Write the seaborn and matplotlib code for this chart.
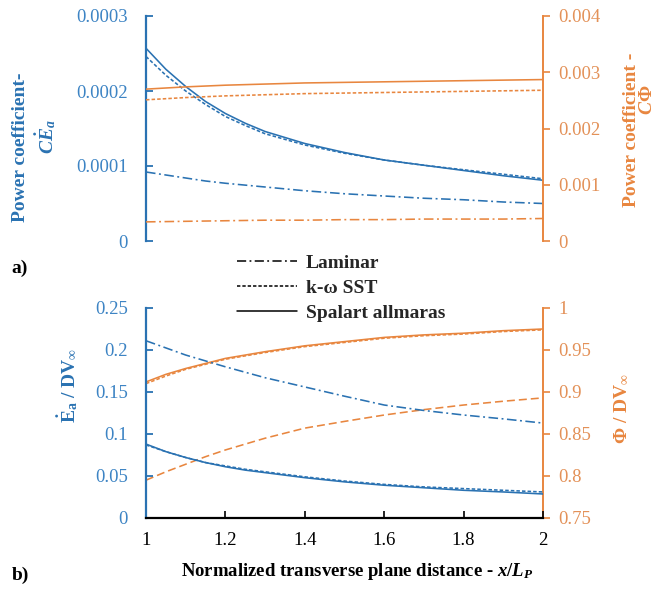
import matplotlib
matplotlib.use("Agg")
import matplotlib.pyplot as plt
from matplotlib.lines import Line2D
import seaborn as sns
import pandas as pd

# ---------------- data ----------------
x_pos = [1.0, 1.05, 1.1, 1.15, 1.2, 1.25, 1.3, 1.4, 1.5, 1.6, 1.7, 1.8, 1.9, 2.0]

# panel a) left axis (CE_a)
a_blue_sa = [0.000257, 0.000229, 0.000206, 0.000186, 0.000170, 0.000157, 0.000146, 0.000130, 0.000118, 0.000108, 0.000101, 0.000094, 0.000087, 0.000081]
a_blue_kw = [0.000246, 0.000221, 0.000200, 0.000182, 0.000166, 0.000154, 0.000143, 0.000128, 0.000117, 0.000108, 0.000101, 0.000095, 0.000089, 0.000083]
a_blue_lam = [0.000092, 0.000088, 0.000084, 0.000080, 0.000077, 0.0000745, 0.000072, 0.000067, 0.000063, 0.000060, 0.000057, 0.000055, 0.000052, 0.000050]
# panel a) right axis (C Phi)
a_or_sa = [0.00270, 0.00272, 0.00274, 0.002755, 0.00277, 0.00278, 0.00279, 0.00281, 0.00282, 0.00283, 0.00284, 0.00285, 0.00286, 0.00287]
a_or_kw = [0.00251, 0.00253, 0.00255, 0.002565, 0.00258, 0.00259, 0.00260, 0.00262, 0.00263, 0.00264, 0.00265, 0.00266, 0.00267, 0.00268]
a_or_lam = [0.00034, 0.000345, 0.00035, 0.000355, 0.00036, 0.000365, 0.00037, 0.00037, 0.00038, 0.00038, 0.00039, 0.00039, 0.00039, 0.00040]

# panel b) left axis (E_a / DV)
b_blue_sa = [0.088, 0.079, 0.072, 0.066, 0.061, 0.057, 0.054, 0.048, 0.043, 0.039, 0.036, 0.033, 0.031, 0.0286]
b_blue_kw = [0.087, 0.079, 0.072, 0.066, 0.062, 0.058, 0.055, 0.049, 0.044, 0.040, 0.037, 0.035, 0.033, 0.031]
b_blue_lam = [0.211, 0.2025, 0.194, 0.187, 0.180, 0.1735, 0.167, 0.156, 0.145, 0.1345, 0.128, 0.1226, 0.118, 0.113]
# panel b) right axis (Phi / DV)
b_or_sa = [0.912, 0.921, 0.928, 0.934, 0.940, 0.944, 0.948, 0.955, 0.960, 0.965, 0.968, 0.970, 0.973, 0.975]
b_or_kw = [0.910, 0.919, 0.927, 0.933, 0.939, 0.943, 0.947, 0.954, 0.959, 0.964, 0.967, 0.969, 0.972, 0.974]
b_or_lam = [0.795, 0.805, 0.814, 0.823, 0.831, 0.838, 0.845, 0.857, 0.865, 0.8726, 0.879, 0.8845, 0.889, 0.893]

legend_labels = ["Laminar", "k-\u03c9 SST", "Spalart allmaras"]

a_left_ticks = [0, 0.0001, 0.0002, 0.0003]
a_left_labels = ["0", "0.0001", "0.0002", "0.0003"]
a_right_ticks = [0, 0.001, 0.002, 0.003, 0.004]
a_right_labels = ["0", "0.001", "0.002", "0.003", "0.004"]
b_left_ticks = [0, 0.05, 0.1, 0.15, 0.2, 0.25]
b_left_labels = ["0", "0.05", "0.1", "0.15", "0.2", "0.25"]
b_right_ticks = [0.75, 0.8, 0.85, 0.9, 0.95, 1.0]
b_right_labels = ["0.75", "0.8", "0.85", "0.9", "0.95", "1"]
x_ticks = [1, 1.2, 1.4, 1.6, 1.8, 2]
x_labels = ["1", "1.2", "1.4", "1.6", "1.8", "2"]

# ---------------- style ----------------
sns.set_theme(style="white")
SERIF = ["Liberation Serif", "DejaVu Serif"]
plt.rcParams["font.family"] = SERIF
plt.rcParams["mathtext.fontset"] = "custom"
plt.rcParams["mathtext.rm"] = "Liberation Serif:bold"
plt.rcParams["mathtext.bf"] = "Liberation Serif:bold"
plt.rcParams["mathtext.it"] = "Liberation Serif:italic:bold"

BLUE = "#2a72b2"
BLUE_T = "#3d84c4"
ORANGE = "#e8863f"
ORANGE_T = "#e39158"
SOLID = "-"
DOTTED = (0, (2.2, 1.3))
DASHDOT = (0, (6, 2.2, 1.2, 2.2))
LW = 1.15
TICK_FS = 13.5
LAB_FS = 14

fig = plt.figure(figsize=(6.64, 5.89), dpi=100)
W, H = 664, 589


def frac_rect(l, t, r, b):
    return [l / W, 1 - b / H, (r - l) / W, (b - t) / H]


ax_a = fig.add_axes(frac_rect(146, 16, 543, 241))
ax_a2 = ax_a.twinx()
ax_b = fig.add_axes(frac_rect(146, 308, 543, 518))
ax_b2 = ax_b.twinx()


def draw(ax, ys, color, ls):
    df = pd.DataFrame({"x": x_pos, "y": ys})
    sns.lineplot(data=df, x="x", y="y", ax=ax, color=color, linestyle=ls,
                 linewidth=LW, legend=False)


for ys, ls in [(a_blue_sa, SOLID), (a_blue_kw, DOTTED), (a_blue_lam, DASHDOT)]:
    draw(ax_a, ys, BLUE, ls)
for ys, ls in [(a_or_sa, SOLID), (a_or_kw, DOTTED), (a_or_lam, DASHDOT)]:
    draw(ax_a2, ys, ORANGE, ls)
for ys, ls in [(b_blue_sa, SOLID), (b_blue_kw, DOTTED), (b_blue_lam, DASHDOT)]:
    draw(ax_b, ys, BLUE, ls)
for ys, ls in [(b_or_sa, SOLID), (b_or_kw, DOTTED), (b_or_lam, (0, (5, 2.5)))]:
    draw(ax_b2, ys, ORANGE, ls)

# ---------------- axes formatting ----------------
for ax in (ax_a, ax_a2, ax_b, ax_b2):
    ax.set_xlim(1, 2)
    ax.set_xlabel("")
    ax.set_ylabel("")
    for s in ax.spines.values():
        s.set_visible(False)

ax_a.set_ylim(0, 0.0003)
ax_a2.set_ylim(0, 0.004)
ax_b.set_ylim(0, 0.25)
ax_b2.set_ylim(0.75, 1.0)

# left axes
for ax, ticks, labels in [(ax_a, a_left_ticks, a_left_labels), (ax_b, b_left_ticks, b_left_labels)]:
    ax.spines["left"].set_visible(True)
    ax.spines["left"].set_color(BLUE)
    ax.spines["left"].set_linewidth(1.6)
    ax.set_yticks(ticks)
    ax.set_yticklabels(labels, fontfamily=SERIF)
    ax.tick_params(axis="y", which="both", left=True, direction="in", length=5,
                   width=1.3, color=BLUE, labelcolor=BLUE_T, labelsize=TICK_FS, pad=13)

# right axes
for ax, ticks, labels in [(ax_a2, a_right_ticks, a_right_labels), (ax_b2, b_right_ticks, b_right_labels)]:
    ax.spines["right"].set_visible(True)
    ax.spines["right"].set_color(ORANGE)
    ax.spines["right"].set_linewidth(1.4)
    ax.set_yticks(ticks)
    ax.set_yticklabels(labels, fontfamily=SERIF)
    ax.tick_params(axis="y", which="both", right=True, direction="out", length=5,
                   width=1.2, color=ORANGE, labelcolor=ORANGE_T, labelsize=TICK_FS, pad=6)

# x axes
ax_a.set_xticks([])
ax_a2.set_xticks([])
ax_b2.set_xticks([])
ax_b.spines["bottom"].set_visible(True)
ax_b.spines["bottom"].set_color("black")
ax_b.spines["bottom"].set_linewidth(1.6)
ax_b.set_xticks(x_ticks)
ax_b.set_xticklabels(x_labels, fontfamily=SERIF)
ax_b.tick_params(axis="x", bottom=True, direction="in", length=5, width=1.2,
                 color="black", labelcolor="black", labelsize=TICK_FS, pad=10)
ax_b.set_zorder(ax_b2.get_zorder() + 1)
ax_b.patch.set_visible(False)

# ---------------- labels ----------------
def ftext(px, py, s, color, rot=90, size=LAB_FS):
    fig.text(px / W, 1 - py / H, s, rotation=rot, ha="center", va="center",
             color=color, fontsize=size, fontweight="bold", fontfamily=SERIF)

ftext(21, 147, "Power coefficient-", BLUE)
ftext(46, 137, r"$C\dot{E}_a$", BLUE)
ftext(632, 130, "Power coefficient -", ORANGE)
ftext(648, 100, r"$C\mathit{\Phi}$", ORANGE)
ftext(68, 385, r"$\dot{\mathrm{E}}_{\mathrm{a}}$ / DV$_{\infty}$", BLUE)
ftext(622, 408, r"$\Phi$ / DV$_{\infty}$", ORANGE)
ftext(357, 571, r"Normalized transverse plane distance - $x/L_P$", "black", rot=0, size=13.5)
ftext(20, 268, "a)", "black", rot=0, size=14)
ftext(20, 575, "b)", "black", rot=0, size=14)

# ---------------- legend ----------------
handles = [Line2D([], [], color="black", linestyle=DASHDOT, linewidth=1.1),
           Line2D([], [], color="black", linestyle=DOTTED, linewidth=1.1),
           Line2D([], [], color="black", linestyle=SOLID, linewidth=1.1)]
fig.legend(handles, legend_labels, loc="upper left",
           bbox_to_anchor=(233 / W, 1 - 250 / H), frameon=False,
           prop={"family": "Liberation Serif", "weight": "bold", "size": 14},
           handlelength=3.1, handletextpad=0.45, labelspacing=0.40,
           borderpad=0.2, borderaxespad=0)

fig.savefig("out.png", dpi=100)
